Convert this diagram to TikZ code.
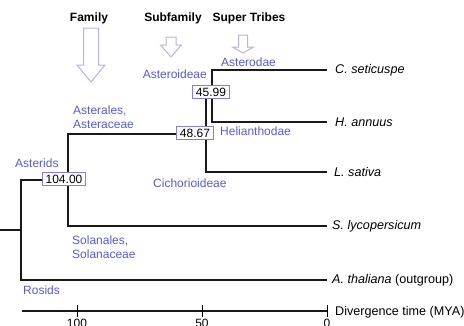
\documentclass[tikz,border=0pt]{standalone}
\usepackage{fontspec}
\setmainfont{Liberation Sans}
\definecolor{taxblue}{RGB}{88,92,196}
\definecolor{boxline}{RGB}{140,124,204}
\definecolor{arrowline}{RGB}{186,178,220}
\begin{document}
\begin{tikzpicture}[x=1pt,y=-1pt,
  font=\fontsize{12}{14}\selectfont,
  branch/.style={line width=2.4pt,black!90},
  agebox/.style={draw=boxline,line width=1pt,fill=white,inner xsep=3pt,inner ysep=2pt},
  taxon/.style={text=taxblue,anchor=west,inner sep=0pt,align=left},
  species/.style={anchor=west,inner sep=0pt,font=\fontsize{12.6}{14}\selectfont},
  rank/.style={font=\fontsize{12}{14}\selectfont\bfseries},
  hollowarrow/.style={draw=arrowline,line width=1pt,fill=white}]
  \useasboundingbox (0,0) rectangle (464,325);
  % ranks and arrows
  \node[rank] (family) at (89,18) {Family};
  \node[rank] (subfamily) at (173,18) {Subfamily};
  \node[rank] (tribes) at (249,18) {Super Tribes};
  \foreach \ax/\ay/\ah/\at/\aw/\bw in {91/28/65/82/7.5/14, 171/37/45/57/5/10.5, 243/35/47/53/4.5/10.5}
    \draw[hollowarrow] (\ax-\aw,\ay) -- (\ax+\aw,\ay) -- (\ax+\aw,\ah) -- (\ax+\bw,\ah)
      -- (\ax,\at) -- (\ax-\bw,\ah) -- (\ax-\aw,\ah) -- cycle;
  % tree
  \coordinate (stub) at (0,230);
  \coordinate (root) at (21,230);
  \coordinate (asterids) at (68,180);
  \coordinate (n48) at (206,134);
  \coordinate (n46) at (212,96);
  \coordinate (cset) at (327,70);
  \coordinate (hann) at (327,122);
  \coordinate (lsat) at (327,172);
  \coordinate (slyc) at (327,226);
  \coordinate (atha) at (327,280);
  \draw[branch] (stub) -- (root);
  \draw[branch] (root) |- (asterids);
  \draw[branch] (root) |- (atha);
  \draw[branch] (asterids) |- (n48);
  \draw[branch] (asterids) |- (slyc);
  \draw[branch] (n48) |- (n46);
  \draw[branch] (n48) |- (lsat);
  \draw[branch] (n46) |- (cset);
  \draw[branch] (n46) |- (hann);
  \node[agebox] (b104) at (64,179) {104.00};
  \node[agebox] (b4867) at (195,133) {48.67};
  \node[agebox] (b4599) at (211,92) {45.99};
  % taxa
  \node[taxon] (asterodae) at (221,62) {Asterodae};
  \node[taxon,anchor=east] (asteroideae) at (207,74) {Asteroideae};
  \node[taxon] (helianthodae) at (220,131) {Helianthodae};
  \node[taxon] (cichorioideae) at (153,183) {Cichorioideae};
  \node[taxon] (asterales) at (73,117) {Asterales,\\Asteraceae};
  \node[taxon] (asteridslab) at (15,163) {Asterids};
  \node[taxon] (solanales) at (72,247) {Solanales,\\Solanaceae};
  \node[taxon] (rosids) at (23,290) {Rosids};
  % species
  \node[species] (lcset) at (335,70) {\textit{C. seticuspe}};
  \node[species] (lhann) at (335,122) {\textit{H. annuus}};
  \node[species] (llsat) at (334,172) {\textit{L. sativa}};
  \node[species] (lslyc) at (332,226) {\textit{S. lycopersicum}};
  \node[species] (latha) at (332,280) {\textit{A. thaliana} (outgroup)};
  % time axis
  \coordinate (axl) at (22,311);
  \coordinate (axr) at (327,311);
  \draw[line width=1.8pt,black!90] (axl) -- (axr);
  \foreach \x/\t in {77/100,202/50,327/0} {
    \draw[line width=1pt] (\x,305) -- (\x,317);
    \node[below,inner sep=2pt] at (\x,317) {\t};
  }
  \node[species] (axlabel) at (335,312) {Divergence time (MYA)};
\end{tikzpicture}
\end{document}
